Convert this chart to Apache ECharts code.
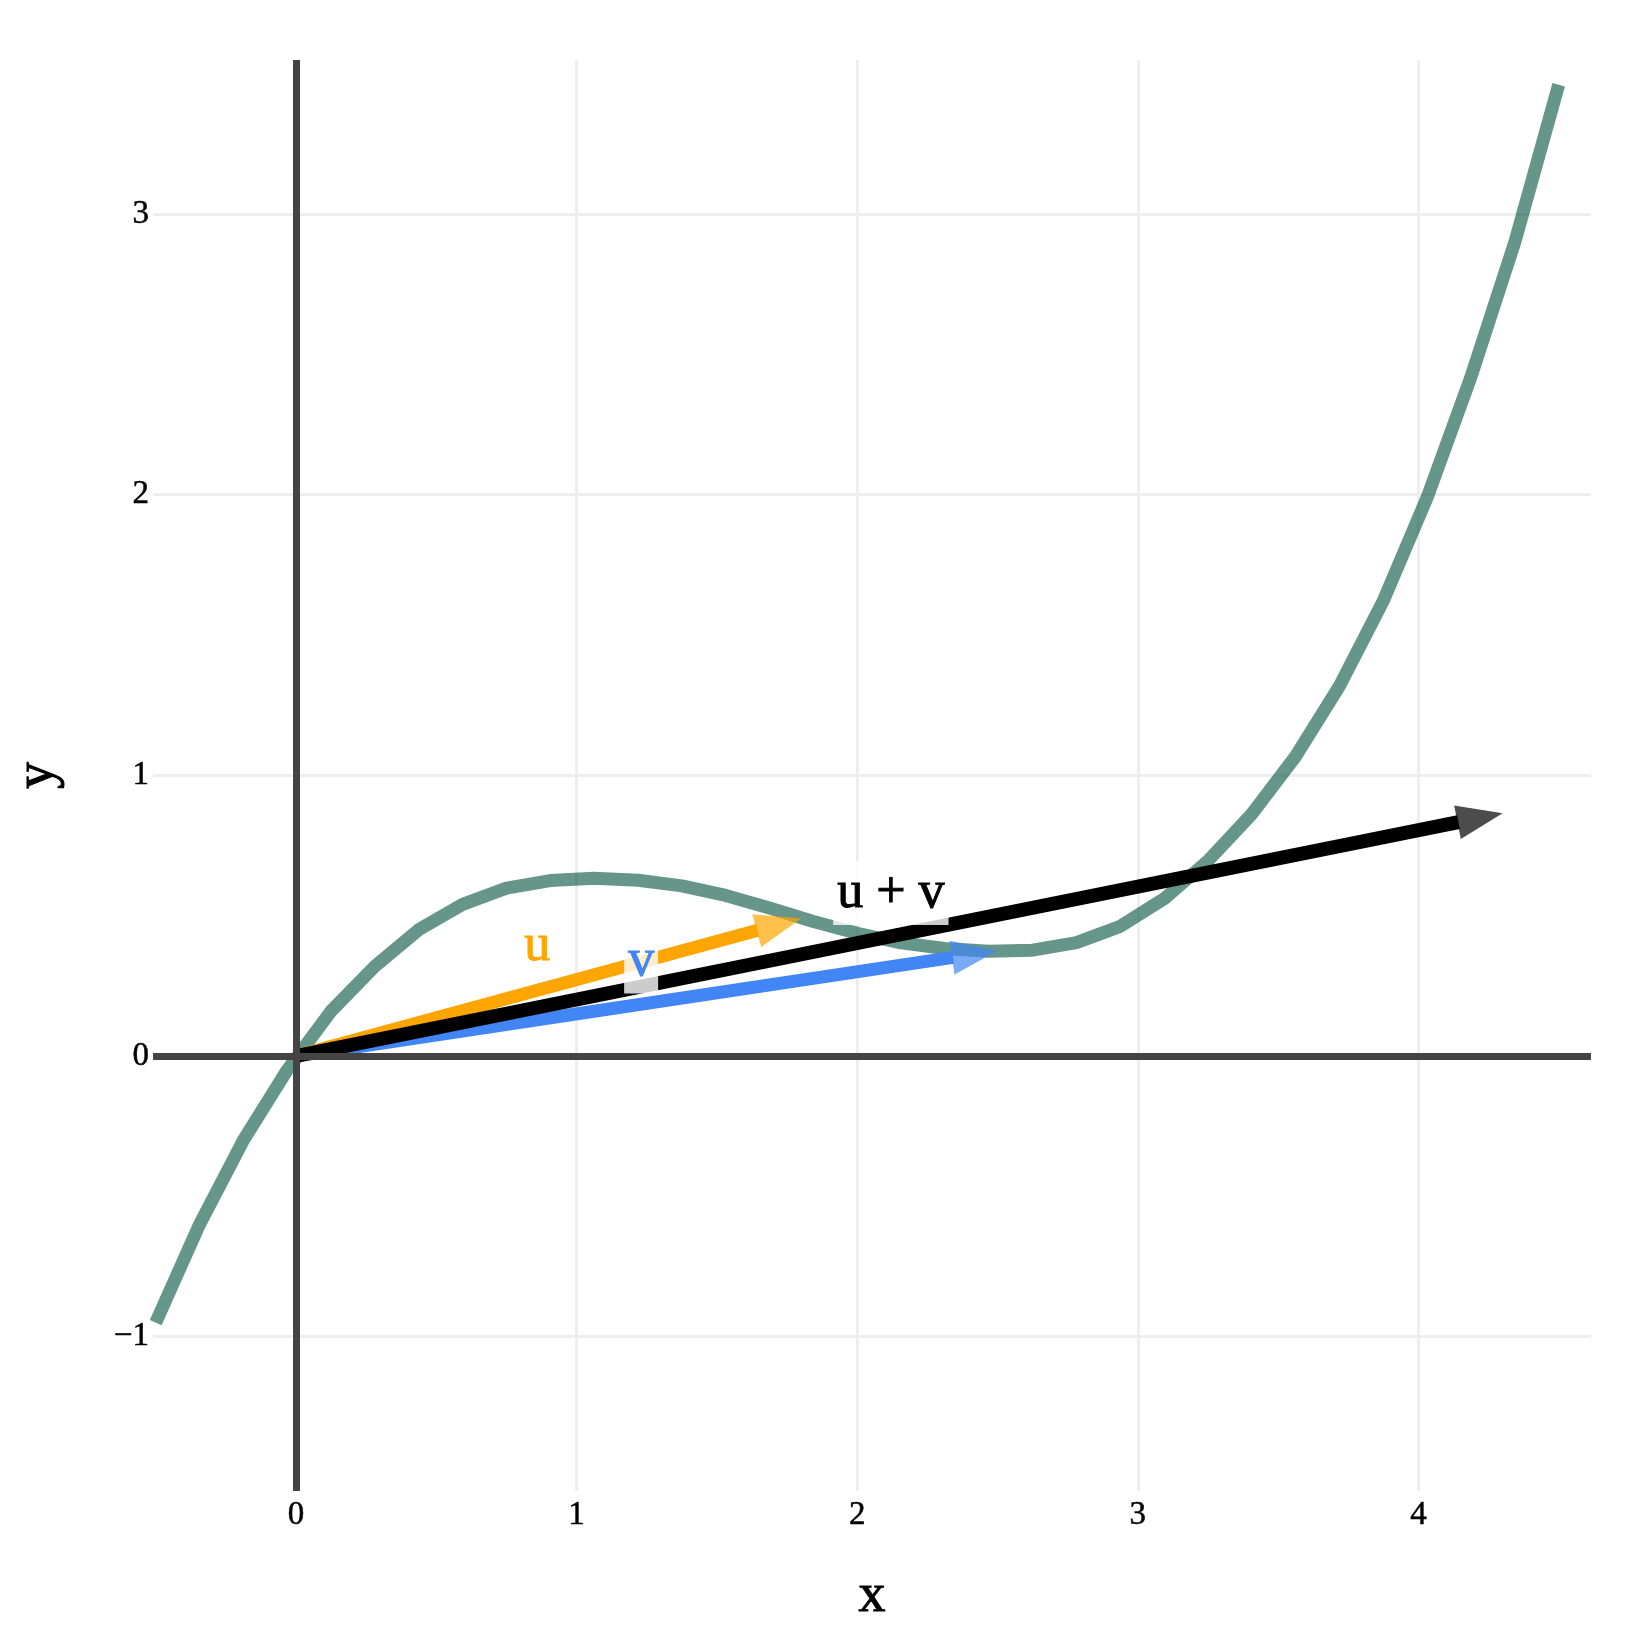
<!DOCTYPE html>
<html>
<head>
<meta charset="utf-8">
<script src="https://cdn.jsdelivr.net/npm/echarts@6/dist/echarts.min.js"></script>
<style>
html,body{margin:0;padding:0;background:#fff;}
#chart{width:1650px;height:1650px;}
</style>
</head>
<body>
<div id="chart"></div>
<script>
// ---- data ----
const curveX = [-0.5, -0.34375, -0.1875, -0.03125, 0.125, 0.28125, 0.4375, 0.59375, 0.75, 0.90625,
  1.0625, 1.21875, 1.375, 1.53125, 1.6875, 1.84375, 2.0, 2.15625, 2.3125, 2.46875,
  2.625, 2.78125, 2.9375, 3.09375, 3.25, 3.40625, 3.5625, 3.71875, 3.875, 4.03125,
  4.1875, 4.34375, 4.5];
const curveY = [-0.95, -0.60, -0.30, -0.05, 0.16, 0.32, 0.45, 0.54, 0.598, 0.625,
  0.633, 0.626, 0.606, 0.572, 0.527, 0.479, 0.437, 0.403, 0.383, 0.373,
  0.377, 0.404, 0.462, 0.560, 0.695, 0.862, 1.068, 1.318, 1.622, 1.99,
  2.42, 2.90, 3.46];
const vecU = [1.8, 0.49];
const vecV = [2.5, 0.375];
const vecSum = [vecU[0] + vecV[0], vecU[1] + vecV[1]];
const xTicks = [0, 1, 2, 3, 4];
const yTicks = [-1, 0, 1, 2, 3];
const xRange = [-0.5096, 4.6151];
const yRange = [-1.5497, 3.5483];
const labelTexts = ['u', 'v', 'u + v'];
const labelPos = [[0.86, 0.39], [1.23, 0.337], [2.12, 0.581]];

// ---- styles ----
const FONT = '"Liberation Serif", "Times New Roman", serif';
const ORANGE = '#FFA500', BLUE = '#4285F4', BLACK = '#000000';
const labelColors = [ORANGE, BLUE, BLACK];

const chart = echarts.init(document.getElementById('chart'), null, {renderer: 'canvas'});

function arrowSeries(vec, color, width, z) {
  return {
    type: 'custom',
    coordinateSystem: 'cartesian2d',
    z: z,
    silent: true,
    encode: {x: [0, 2], y: [1, 3]},
    data: [[0, 0, vec[0], vec[1]]],
    renderItem: function (params, api) {
      const p0 = api.coord([api.value(0), api.value(1)]);
      const p1 = api.coord([api.value(2), api.value(3)]);
      const dx = p1[0] - p0[0], dy = p1[1] - p0[1];
      const L = Math.sqrt(dx * dx + dy * dy);
      const ux = dx / L, uy = dy / L;
      const headLen = 46, headHalf = 17;
      const bx = p1[0] - ux * headLen, by = p1[1] - uy * headLen;
      return {
        type: 'group',
        children: [
          {type: 'line', shape: {x1: p0[0], y1: p0[1], x2: bx + ux, y2: by + uy},
           style: {stroke: color, lineWidth: width, lineCap: 'butt'}},
          {type: 'polygon', shape: {points: [[p1[0], p1[1]],
              [bx - uy * headHalf, by + ux * headHalf],
              [bx + uy * headHalf, by - ux * headHalf]]},
           style: {fill: color, opacity: 0.7}}
        ]
      };
    }
  };
}

const minusFmt = v => String(v).replace('-', '\u2212');

const option = {
  animation: false,
  backgroundColor: '#ffffff',
  grid: {left: 153, right: 59, top: 60, bottom: 159, containLabel: false},
  xAxis: {
    type: 'value', min: xRange[0], max: xRange[1],
    axisLine: {show: false, onZero: false},
    axisTick: {show: false, customValues: xTicks},
    axisLabel: {customValues: xTicks, formatter: minusFmt, margin: 8,
      color: '#000', fontFamily: FONT, fontSize: 33,
      textBorderColor: '#000', textBorderWidth: 0.5},
    splitLine: {show: true, lineStyle: {color: '#eeeeee', width: 3}},
    name: 'x', nameLocation: 'middle', nameGap: 79,
    nameTextStyle: {color: '#000', fontFamily: FONT, fontSize: 54,
      textBorderColor: '#000', textBorderWidth: 1}
  },
  yAxis: {
    type: 'value', min: yRange[0], max: yRange[1],
    axisLine: {show: false, onZero: false},
    axisTick: {show: false, customValues: yTicks},
    axisLabel: {customValues: yTicks, formatter: minusFmt, margin: 4,
      color: '#000', fontFamily: FONT, fontSize: 33,
      textBorderColor: '#000', textBorderWidth: 0.5},
    splitLine: {show: true, lineStyle: {color: '#eeeeee', width: 3}},
    name: 'y', nameLocation: 'middle', nameGap: 88, nameRotate: 90,
    nameTextStyle: {color: '#000', fontFamily: FONT, fontSize: 54,
      textBorderColor: '#000', textBorderWidth: 1}
  },
  series: [
    {
      type: 'line', z: 1, data: [], silent: true,
      markLine: {
        silent: true, symbol: ['none', 'none'], label: {show: false},
        lineStyle: {color: '#444444', width: 7, type: 'solid'},
        emphasis: {disabled: true},
        data: [{xAxis: 0}, {yAxis: 0}]
      }
    },
    {
      type: 'line', z: 2, silent: true, showSymbol: false, symbol: 'none',
      data: curveX.map((x, i) => [x, curveY[i]]),
      lineStyle: {color: 'rgb(0,80,60)', opacity: 0.6, width: 13, join: 'round', cap: 'butt'}
    },
    arrowSeries(vecU, ORANGE, 13, 3),
    arrowSeries(vecV, BLUE, 13, 3),
    arrowSeries(vecSum, BLACK, 14, 3),
    {
      type: 'scatter', z: 4, silent: true, symbolSize: 1,
      itemStyle: {color: 'rgba(0,0,0,0)', opacity: 1},
      data: labelTexts.map((t, i) => ({
        value: labelPos[i], name: t,
        label: {color: labelColors[i], textBorderColor: labelColors[i]}
      })),
      label: {
        show: true, position: 'inside', formatter: p => p.name,
        fontFamily: FONT, fontSize: 52, lineHeight: 52, textBorderWidth: 1,
        backgroundColor: 'rgba(255,255,255,0.8)', padding: [8, 4, 4, 4]
      }
    }
  ]
};
chart.setOption(option);
</script>
</body>
</html>
